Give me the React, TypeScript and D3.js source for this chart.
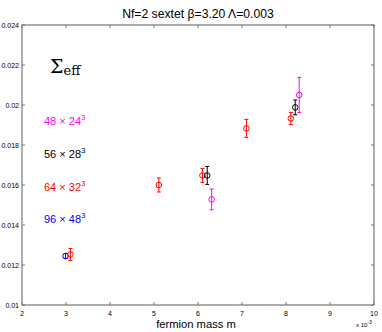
import React from "react";
import * as d3 from "d3";

// ensemble labels and colours
const series = ["48x24", "56x28", "64x32", "96x48"];
const colors = ["#ff00ff", "#000000", "#ff0000", "#0000ff"];
const legendBase = ["48", "56", "64", "96"];
const legendSpace = ["24", "28", "32", "48"];

// points: series index, mass (x 1e-3), sigma, error
const pSeries = [3, 2, 2, 2, 1, 0, 2, 2, 1, 0];
const pMass = [2.99, 3.1, 5.11, 6.1, 6.21, 6.31, 7.1, 8.11, 8.21, 8.3];
const pSigma = [0.01245, 0.01253, 0.016, 0.01648, 0.01648, 0.01528, 0.01883, 0.01933, 0.01988, 0.0205];
const pErr = [0.00012, 0.0003, 0.00035, 0.00035, 0.00045, 0.00052, 0.00045, 0.0003, 0.00037, 0.00088];

const xTicks = [2, 3, 4, 5, 6, 7, 8, 9, 10];
const yTicks = [0.01, 0.012, 0.014, 0.016, 0.018, 0.02, 0.022, 0.024];

const App = () => {
  const left = 22, right = 374, top = 25, bottom = 305;
  const x = d3.scaleLinear().domain([2, 10]).range([left, right]);
  const y = d3.scaleLinear().domain([0.01, 0.024]).range([bottom, top]);
  const tk = 3;
  const axisColor = "#777";

  return (
    <svg width={382} height={332} style={{ position: "absolute", left: 0, top: 0, fontFamily: "Liberation Sans, Arial, sans-serif" }}>
      <rect x={0} y={0} width={382} height={332} fill="#fff" />
      <text x={198} y={18} textAnchor="middle" fontSize={12.2}>Nf=2 sextet β=3.20 Λ=0.003</text>

      {xTicks.map((t) => (
        <g key={"x" + t}>
          <line x1={x(t)} x2={x(t)} y1={bottom} y2={bottom - tk} stroke={axisColor} />
          <line x1={x(t)} x2={x(t)} y1={top} y2={top + tk} stroke={axisColor} />
          <text x={x(t)} y={bottom + 11} textAnchor="middle" fontSize={7}>{t}</text>
        </g>
      ))}
      {yTicks.map((t) => (
        <g key={"y" + t}>
          <line x1={left} x2={left + tk} y1={y(t)} y2={y(t)} stroke={axisColor} />
          <line x1={right} x2={right - tk} y1={y(t)} y2={y(t)} stroke={axisColor} />
          <text x={left - 3} y={y(t) + 2.5} textAnchor="end" fontSize={7}>{t}</text>
        </g>
      ))}
      <rect x={left} y={top} width={right - left} height={bottom - top} fill="none" stroke={axisColor} strokeWidth={1.2} />

      <text x={196} y={328} textAnchor="middle" fontSize={11.2}>fermion mass m</text>
      <text x={356} y={327} fontSize={6}>x 10<tspan dy={-3} fontSize={5}>-3</tspan></text>

      <text x={50} y={73} fontSize={19} fontFamily="DejaVu Serif, serif">Σ<tspan fontSize={13} dy={2}>eff</tspan></text>

      {series.map((s, i) => (
        <text key={s} x={44} y={125 + i * 32.8} fontSize={11} fill={colors[i]}>
          {legendBase[i]} × {legendSpace[i]}<tspan dy={-5} fontSize={8}>3</tspan>
        </text>
      ))}

      {pMass.map((m, i) => {
        const c = colors[pSeries[i]];
        const cx = x(m), cy = y(pSigma[i]);
        const y0 = y(pSigma[i] - pErr[i]), y1 = y(pSigma[i] + pErr[i]);
        return (
          <g key={"p" + i} stroke={c} fill="none" strokeWidth={1}>
            <line x1={cx} x2={cx} y1={y0} y2={y1} />
            <line x1={cx - 2} x2={cx + 2} y1={y0} y2={y0} />
            <line x1={cx - 2} x2={cx + 2} y1={y1} y2={y1} />
            <circle cx={cx} cy={cy} r={2.8} />
          </g>
        );
      })}
    </svg>
  );
};

export default App;
